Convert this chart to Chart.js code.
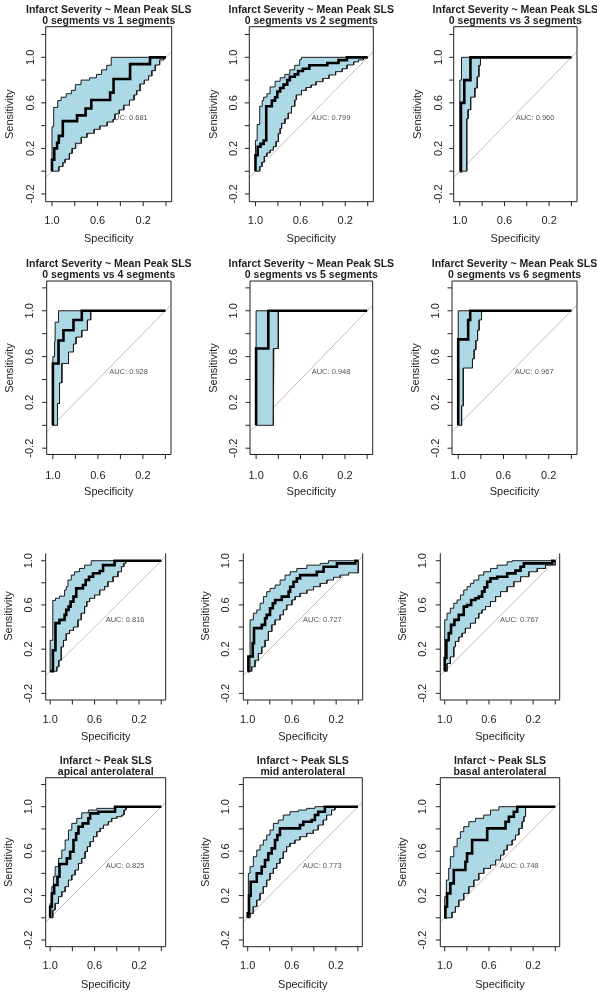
<!DOCTYPE html>
<html><head><meta charset="utf-8">
<script src="https://cdn.jsdelivr.net/npm/chart.js@4.4.1/dist/chart.umd.min.js"></script>
<style>
html,body{margin:0;padding:0;background:#fff;}
#wrap{position:relative;width:597px;height:993px;overflow:hidden;background:#fff;}
#wrap canvas{position:absolute;left:0;top:0;pointer-events:none;}
</style></head>
<body><div id="wrap"></div>
<script>
// ---------------- DATA ----------------
const titleLine1 = [
  'Infarct Severity ~ Mean Peak SLS','Infarct Severity ~ Mean Peak SLS','Infarct Severity ~ Mean Peak SLS',
  'Infarct Severity ~ Mean Peak SLS','Infarct Severity ~ Mean Peak SLS','Infarct Severity ~ Mean Peak SLS',
  null, null, null,
  'Infarct ~ Peak SLS','Infarct ~ Peak SLS','Infarct ~ Peak SLS'];
const titleLine2 = [
  '0 segments vs 1 segments','0 segments vs 2 segments','0 segments vs 3 segments',
  '0 segments vs 4 segments','0 segments vs 5 segments','0 segments vs 6 segments',
  null, null, null,
  'apical anterolateral','mid anterolateral','basal anterolateral'];
const aucValues = [0.681, 0.799, 0.960, 0.928, 0.948, 0.967, 0.816, 0.727, 0.767, 0.825, 0.773, 0.748];
const aucLabelPos = [0.5, 0.465];           // (specificity, sensitivity) where the AUC text sits
const xTickValues = [1.0, 0.8, 0.6, 0.4, 0.2, 0.0];
const xTickLabels = ['1.0', '', '0.6', '', '0.2', ''];
const yTickValues = [-0.2, 0.0, 0.2, 0.4, 0.6, 0.8, 1.0, 1.2];
const yTickLabels = ['-0.2', '', '0.2', '', '0.6', '', '1.0', ''];
const diagonal = [[1.1, -0.1], [-0.1, 1.1]]; // identity line

// ROC curves / CI bounds: [specificity, sensitivity]; each point = top of a vertical step
const roc1 = [[1,0],[1,0.10],[0.98,0.20],[0.955,0.25],[0.94,0.31],[0.905,0.44],[0.78,0.49],[0.705,0.55],[0.655,0.625],[0.49,0.69],[0.46,0.81],[0.315,0.94],[0.14,1.0],[0,1.0]];
const upper1 = [[1,0],[1,0.39],[0.985,0.56],[0.95,0.62],[0.92,0.65],[0.875,0.68],[0.83,0.71],[0.795,0.76],[0.745,0.80],[0.67,0.82],[0.61,0.85],[0.565,0.89],[0.52,0.93],[0.48,1.0],[0,1.0]];
const lower1 = [[1,0],[0.94,0.04],[0.905,0.075],[0.885,0.105],[0.847,0.157],[0.823,0.2],[0.793,0.245],[0.743,0.298],[0.693,0.333],[0.63,0.368],[0.58,0.397],[0.516,0.432],[0.463,0.456],[0.448,0.503],[0.41,0.538],[0.37,0.58],[0.32,0.625],[0.28,0.67],[0.257,0.707],[0.227,0.766],[0.19,0.8],[0.153,0.837],[0.124,0.883],[0.094,0.933],[0.056,0.977],[0.02,1.0],[0,1.0]];

const roc2 = [[1,0],[1,0.14],[0.98,0.215],[0.955,0.24],[0.927,0.27],[0.904,0.57],[0.854,0.62],[0.825,0.65],[0.805,0.70],[0.78,0.73],[0.75,0.76],[0.717,0.80],[0.694,0.83],[0.65,0.85],[0.62,0.88],[0.577,0.90],[0.52,0.93],[0.36,0.95],[0.26,0.975],[0.185,1.0],[0,1.0]];
const upper2 = [[1,0],[1,0.27],[0.985,0.41],[0.962,0.57],[0.94,0.62],[0.927,0.65],[0.898,0.68],[0.87,0.74],[0.825,0.79],[0.78,0.82],[0.738,0.85],[0.694,0.89],[0.65,0.93],[0.606,0.98],[0.59,1.0],[0,1.0]];
const lower2 = [[1,0],[0.962,0.04],[0.942,0.08],[0.921,0.13],[0.898,0.16],[0.869,0.185],[0.84,0.215],[0.816,0.26],[0.796,0.33],[0.78,0.375],[0.767,0.42],[0.737,0.46],[0.708,0.51],[0.679,0.57],[0.65,0.625],[0.636,0.67],[0.59,0.71],[0.548,0.735],[0.504,0.757],[0.46,0.786],[0.40,0.815],[0.344,0.845],[0.286,0.874],[0.227,0.90],[0.184,0.933],[0.125,0.96],[0.082,0.977],[0.038,1.0],[0,1.0]];

const roc3 = [[1,0],[0.99,0.6],[0.96,0.8],[0.905,1.0],[0,1.0]];
const upper3 = [[1,0],[1,0.8],[0.985,1.0],[0,1.0]];
const lower3 = [[1,0],[0.938,0.46],[0.926,0.54],[0.903,0.65],[0.865,0.73],[0.844,0.83],[0.829,0.93],[0.815,1.0],[0,1.0]];

const roc4 = [[1,0],[1,0.54],[0.95,0.74],[0.906,0.83],[0.817,0.92],[0.743,1.0],[0,1.0]];
const upper4 = [[1,0],[1,0.6],[0.985,0.73],[0.98,0.9],[0.95,1.0],[0,1.0]];
const lower4 = [[1,0],[0.959,0.19],[0.941,0.37],[0.92,0.54],[0.861,0.64],[0.817,0.71],[0.794,0.77],[0.743,0.83],[0.693,0.92],[0.664,1.0],[0,1.0]];

const roc5 = [[1,0],[1,0.67],[0.89,1.0],[0,1.0]];
const upper5 = [[1,0],[1,1.0],[0,1.0]];
const lower5 = [[1,0],[0.847,0.33],[0.84,0.67],[0.80,1.0],[0,1.0]];

const roc6 = [[1,0],[1,0.75],[0.912,0.92],[0.894,1.0],[0,1.0]];
const upper6 = [[1,0],[1,1.0],[0,1.0]];
const lower6 = [[1,0],[0.97,0.17],[0.955,0.5],[0.874,0.58],[0.859,0.66],[0.844,0.74],[0.829,0.83],[0.815,0.92],[0.794,1.0],[0,1.0]];

const roc7 = [[1,0],[0.975,0.19],[0.952,0.435],[0.916,0.465],[0.87,0.51],[0.855,0.555],[0.834,0.585],[0.816,0.63],[0.79,0.675],[0.765,0.75],[0.705,0.78],[0.68,0.825],[0.65,0.855],[0.614,0.886],[0.554,0.907],[0.524,0.96],[0.42,1.0],[0,1.0]];
const upper7 = [[1,0],[1,0.28],[0.976,0.64],[0.952,0.66],[0.916,0.68],[0.87,0.735],[0.855,0.765],[0.84,0.825],[0.81,0.87],[0.78,0.9],[0.735,0.93],[0.69,0.96],[0.63,1.0],[0,1.0]];
const lower7 = [[1,0],[0.94,0.04],[0.922,0.1],[0.9,0.22],[0.88,0.28],[0.855,0.34],[0.825,0.37],[0.79,0.40],[0.75,0.465],[0.72,0.525],[0.69,0.585],[0.67,0.63],[0.645,0.66],[0.6,0.69],[0.554,0.735],[0.51,0.765],[0.48,0.81],[0.434,0.855],[0.39,0.9],[0.358,0.946],[0.337,0.976],[0.32,1.0],[0,1.0]];

const roc8 = [[1,0],[0.994,0.134],[0.955,0.254],[0.943,0.39],[0.873,0.42],[0.843,0.48],[0.828,0.51],[0.798,0.57],[0.773,0.615],[0.752,0.645],[0.692,0.675],[0.63,0.72],[0.616,0.765],[0.586,0.81],[0.556,0.84],[0.526,0.87],[0.375,0.9],[0.314,0.946],[0.193,0.976],[0.027,1.0],[0,1.0]];
const upper8 = [[1,0],[0.979,0.465],[0.949,0.525],[0.918,0.555],[0.888,0.615],[0.858,0.675],[0.828,0.72],[0.798,0.75],[0.752,0.78],[0.707,0.825],[0.662,0.87],[0.616,0.9],[0.556,0.93],[0.465,0.96],[0.344,0.976],[0.27,1.0],[0,1.0]];
const lower8 = [[1,0],[0.964,0.04],[0.934,0.1],[0.903,0.16],[0.873,0.22],[0.843,0.28],[0.813,0.36],[0.782,0.42],[0.752,0.465],[0.707,0.51],[0.677,0.555],[0.647,0.6],[0.60,0.645],[0.571,0.675],[0.526,0.705],[0.465,0.735],[0.405,0.765],[0.344,0.795],[0.284,0.825],[0.224,0.85],[0.163,0.87],[0.088,0.89],[0,0.9],[0,1.0]];

const roc9 = [[1,0],[1,0.12],[0.985,0.28],[0.964,0.345],[0.943,0.42],[0.912,0.465],[0.873,0.51],[0.828,0.585],[0.798,0.60],[0.761,0.645],[0.722,0.66],[0.692,0.675],[0.662,0.72],[0.64,0.76],[0.616,0.81],[0.586,0.84],[0.526,0.855],[0.435,0.885],[0.36,0.91],[0.314,0.946],[0.284,0.976],[0.027,1.0],[0,1.0]];
const upper9 = [[1,0],[1,0.465],[0.979,0.525],[0.949,0.57],[0.918,0.615],[0.888,0.645],[0.858,0.69],[0.828,0.735],[0.798,0.765],[0.767,0.795],[0.737,0.825],[0.692,0.87],[0.647,0.9],[0.586,0.93],[0.526,0.96],[0.435,0.99],[0.39,1.0],[0,1.0]];
const lower9 = [[1,0],[0.979,0.07],[0.949,0.13],[0.918,0.22],[0.903,0.27],[0.873,0.31],[0.843,0.345],[0.813,0.39],[0.767,0.435],[0.722,0.48],[0.692,0.525],[0.662,0.555],[0.631,0.585],[0.586,0.63],[0.54,0.675],[0.495,0.72],[0.435,0.765],[0.375,0.81],[0.314,0.855],[0.239,0.9],[0.163,0.93],[0.088,0.96],[0,0.985],[0,1.0]];

const roc10 = [[1,0],[1,0.1],[0.985,0.22],[0.964,0.295],[0.934,0.37],[0.916,0.484],[0.85,0.535],[0.82,0.595],[0.79,0.7],[0.766,0.76],[0.745,0.82],[0.707,0.85],[0.656,0.895],[0.64,0.94],[0.566,0.955],[0.416,1.0],[0,1.0]];
const upper10 = [[1,0],[1,0.13],[0.985,0.28],[0.97,0.37],[0.955,0.46],[0.925,0.535],[0.895,0.61],[0.865,0.7],[0.835,0.79],[0.805,0.85],[0.76,0.895],[0.716,0.945],[0.656,0.97],[0.58,0.985],[0.42,1.0],[0,1.0]];
const lower10 = [[1,0],[0.976,0.07],[0.955,0.13],[0.925,0.19],[0.895,0.235],[0.865,0.28],[0.835,0.34],[0.805,0.385],[0.775,0.43],[0.745,0.49],[0.716,0.535],[0.686,0.595],[0.665,0.64],[0.64,0.685],[0.61,0.73],[0.58,0.775],[0.55,0.805],[0.52,0.835],[0.476,0.865],[0.446,0.895],[0.4,0.91],[0.356,0.925],[0.335,0.97],[0.317,1.0],[0,1.0]];

const roc11 = [[1,0],[1,0.04],[0.988,0.2],[0.973,0.325],[0.918,0.4],[0.873,0.46],[0.843,0.52],[0.813,0.58],[0.782,0.625],[0.752,0.7],[0.731,0.745],[0.707,0.805],[0.526,0.835],[0.495,0.865],[0.42,0.88],[0.39,0.925],[0.36,0.955],[0.3,1.0],[0,1.0]];
const upper11 = [[1,0],[0.994,0.4],[0.979,0.46],[0.949,0.55],[0.918,0.61],[0.888,0.655],[0.858,0.7],[0.828,0.745],[0.798,0.79],[0.767,0.85],[0.722,0.88],[0.677,0.925],[0.616,0.955],[0.54,0.97],[0.465,0.985],[0.39,1.0],[0,1.0]];
const lower11 = [[1,0],[0.979,0.04],[0.949,0.1],[0.918,0.16],[0.888,0.22],[0.858,0.28],[0.828,0.34],[0.798,0.4],[0.767,0.445],[0.737,0.49],[0.707,0.535],[0.677,0.595],[0.647,0.64],[0.616,0.67],[0.571,0.7],[0.526,0.73],[0.465,0.76],[0.405,0.79],[0.36,0.835],[0.314,0.88],[0.284,0.925],[0.239,0.97],[0.208,1.0],[0,1.0]];

const roc12 = [[1,0],[0.994,0.1],[0.979,0.22],[0.949,0.31],[0.918,0.43],[0.813,0.505],[0.798,0.58],[0.752,0.7],[0.616,0.805],[0.45,0.865],[0.42,0.91],[0.375,0.955],[0.344,1.0],[0,1.0]];
const upper12 = [[1,0],[1,0.19],[0.985,0.34],[0.964,0.445],[0.949,0.55],[0.918,0.64],[0.888,0.715],[0.858,0.775],[0.828,0.82],[0.782,0.865],[0.722,0.895],[0.647,0.925],[0.586,0.97],[0.51,1.0],[0,1.0]];
const lower12 = [[1,0],[0.934,0.05],[0.903,0.1],[0.873,0.16],[0.828,0.22],[0.782,0.28],[0.737,0.34],[0.692,0.4],[0.647,0.445],[0.586,0.475],[0.54,0.52],[0.495,0.565],[0.465,0.61],[0.435,0.655],[0.39,0.7],[0.36,0.745],[0.329,0.805],[0.3,0.865],[0.284,0.91],[0.269,1.0],[0,1.0]];

const rocCurves = [roc1,roc2,roc3,roc4,roc5,roc6,roc7,roc8,roc9,roc10,roc11,roc12];
const ciUpper = [upper1,upper2,upper3,upper4,upper5,upper6,upper7,upper8,upper9,upper10,upper11,upper12];
const ciLower = [lower1,lower2,lower3,lower4,lower5,lower6,lower7,lower8,lower9,lower10,lower11,lower12];

// ---------------- LAYOUT (page pixels) ----------------
const W = 597, H = 993;
const rowLayout = [
  {top:26.7, bottom:201.7, yMin:-0.268, yMax:1.269, xMin:-0.05, xMax:1.055, cropped:false, xLab:19,   xTitle:37.3, yLab:-15,   yTitle:-35.5},
  {top:281,  bottom:454.5, yMin:-0.255, yMax:1.26,  xMin:-0.05, xMax:1.055, cropped:false, xLab:21.5, xTitle:37.2, yLab:-16.5, yTitle:-36.5},
  {top:553.3,bottom:700,   yMin:-0.26,  yMax:1.067, xMin:-0.04, xMax:1.04,  cropped:true,  xLab:20,   xTitle:37,   yLab:-17,   yTitle:-37},
  {top:777.7,bottom:946.7, yMin:-0.26,  yMax:1.261, xMin:-0.04, xMax:1.04,  cropped:false, xLab:19.3, xTitle:38.3, yLab:-17,   yTitle:-37}
];
const colLayout = [
  [[45.7,171.7],[249.3,373.3],[453.7,577]],
  [[46.7,171],[250,372.7],[452,577]],
  [[45.7,165.7],[243.3,362.7],[440.3,559.7]],
  [[45.7,165.7],[243.3,362.3],[440.3,559.7]]
];
const FONT = '"Liberation Sans", Arial, Helvetica, sans-serif';

function toXY(arr){ return arr.map(p => ({x:p[0], y:p[1]})); }
// expand a step list (horizontal then vertical) into explicit corners
function stairCorners(arr){
  const out = [{x:arr[0][0], y:arr[0][1]}];
  for (let i = 1; i < arr.length; i++){
    out.push({x:arr[i][0], y:arr[i-1][1]});
    out.push({x:arr[i][0], y:arr[i][1]});
  }
  return out;
}

function makeRPlugin(i, row){
  return {
    id: 'rstyle' + i,
    beforeDatasetsDraw(chart){
      const ctx = chart.ctx, xs = chart.scales.x, ys = chart.scales.y;
      ctx.save();
      ctx.font = '7.5px ' + FONT;
      ctx.fillStyle = '#555';
      ctx.textAlign = 'left'; ctx.textBaseline = 'middle';
      ctx.fillText('AUC: ' + aucValues[i].toFixed(3), xs.getPixelForValue(aucLabelPos[0]), ys.getPixelForValue(aucLabelPos[1]));
      ctx.restore();
    },
    afterDatasetsDraw(chart){
      const ctx = chart.ctx, a = chart.chartArea, xs = chart.scales.x, ys = chart.scales.y;
      ctx.save();
      ctx.strokeStyle = '#222'; ctx.lineWidth = 1;
      ctx.beginPath();
      if (row.cropped){
        ctx.moveTo(a.left, a.top); ctx.lineTo(a.left, a.bottom); ctx.lineTo(a.right, a.bottom); ctx.lineTo(a.right, a.top);
      } else {
        ctx.rect(a.left, a.top, a.right - a.left, a.bottom - a.top);
      }
      ctx.stroke();
      // ticks
      const tl = 4.5;
      ctx.beginPath();
      xTickValues.forEach(v => { const px = xs.getPixelForValue(v); ctx.moveTo(px, a.bottom); ctx.lineTo(px, a.bottom + tl); });
      yTickValues.forEach(v => { if (v > ys.max || v < ys.min) return; const py = ys.getPixelForValue(v); ctx.moveTo(a.left, py); ctx.lineTo(a.left - tl, py); });
      ctx.stroke();
      // tick labels
      ctx.fillStyle = '#222';
      ctx.font = '11px ' + FONT;
      ctx.textAlign = 'center'; ctx.textBaseline = 'middle';
      xTickValues.forEach((v, k) => { if (xTickLabels[k]) ctx.fillText(xTickLabels[k], xs.getPixelForValue(v), a.bottom + row.xLab); });
      yTickValues.forEach((v, k) => {
        if (!yTickLabels[k] || v > ys.max || v < ys.min) return;
        ctx.save(); ctx.translate(a.left + row.yLab, ys.getPixelForValue(v)); ctx.rotate(-Math.PI/2);
        ctx.fillText(yTickLabels[k], 0, 0); ctx.restore();
      });
      // axis titles
      const cx = (a.left + a.right) / 2;
      ctx.fillText('Specificity', cx, a.bottom + row.xTitle);
      ctx.save(); ctx.translate(a.left + row.yTitle, ys.getPixelForValue(0.5)); ctx.rotate(-Math.PI/2);
      ctx.fillText('Sensitivity', 0, 0); ctx.restore();
      // main title
      if (titleLine1[i]){
        ctx.font = 'bold 10.5px ' + FONT;
        ctx.fillStyle = '#1e1e1e';
        ctx.fillText(titleLine1[i], cx, a.top - 17);
        ctx.fillText(titleLine2[i], cx, a.top - 5.6);
      }
      ctx.restore();
    }
  };
}

const wrap = document.getElementById('wrap');
for (let i = 0; i < 12; i++){
  const r = Math.floor(i / 3), c = i % 3;
  const row = rowLayout[r], col = colLayout[r][c];
  const cv = document.createElement('canvas');
  cv.width = W; cv.height = H;
  cv.style.width = W + 'px'; cv.style.height = H + 'px';
  wrap.appendChild(cv);
  const band = stairCorners(ciUpper[i]).concat(stairCorners(ciLower[i]).reverse());
  new Chart(cv.getContext('2d'), {
    type: 'scatter',
    data: {
      datasets: [
        {label:'ROC', data: toXY(rocCurves[i]), showLine:true, stepped:'before', borderColor:'#000', borderWidth:2.6,
         pointRadius:0, fill:false, order:0, borderJoinStyle:'miter'},
        {label:'CI', data: band, showLine:true, borderColor:'#1c1c1c', borderWidth:1, backgroundColor:'#add8e6',
         fill:'shape', pointRadius:0, order:1, borderJoinStyle:'miter'},
        {label:'identity', data: toXY(diagonal), showLine:true, borderColor:'#bdbdbd', borderWidth:1,
         pointRadius:0, fill:false, order:2}
      ]
    },
    options: {
      responsive:false, animation:false, events:[],
      layout:{autoPadding:false, padding:{left:col[0], right:W-col[1], top:row.top, bottom:H-row.bottom}},
      scales:{
        x:{type:'linear', reverse:true, min:row.xMin, max:row.xMax, display:false},
        y:{type:'linear', min:row.yMin, max:row.yMax, display:false}
      },
      plugins:{legend:{display:false}, tooltip:{enabled:false}, title:{display:false}}
    },
    plugins:[makeRPlugin(i, row)]
  });
}
</script>
</body></html>
